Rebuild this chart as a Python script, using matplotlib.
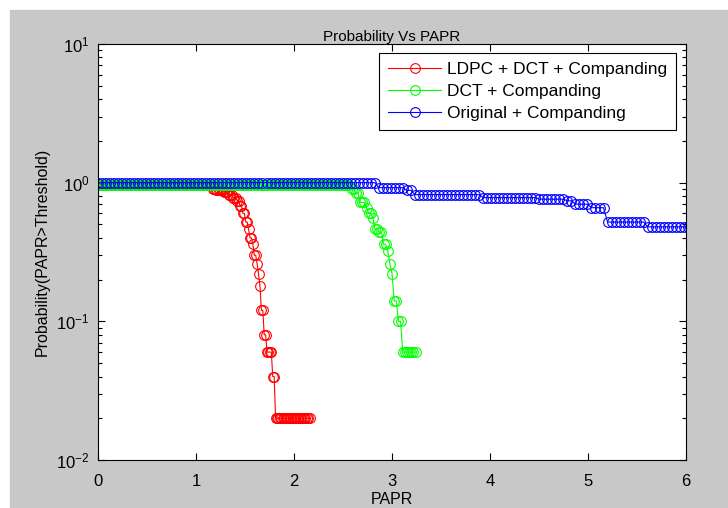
"""
Probability Vs PAPR — CCDF curves redrawn in the style of a MATLAB semilogy figure.
"""

import numpy as np
import matplotlib
matplotlib.use("Agg")
import matplotlib.pyplot as plt
from matplotlib.patches import Rectangle

plt.rcParams["font.family"] = ["Liberation Sans", "DejaVu Sans"]
plt.rcParams["mathtext.default"] = "regular"

# --- data ------------------------------------------------------------------
# each curve: threshold range (end), and the step levels of P(PAPR > threshold)
# (x where a level starts, level value)
n_points = 150

red_end = 2.16
red_x = [0.0, 1.16, 1.20, 1.28, 1.33, 1.37, 1.41, 1.44, 1.47, 1.50, 1.53,
         1.55, 1.57, 1.59, 1.61, 1.63, 1.645, 1.66, 1.685, 1.725, 1.77, 1.80]
red_p = [0.96, 0.90, 0.88, 0.86, 0.82, 0.78, 0.74, 0.68, 0.60, 0.52, 0.46,
         0.40, 0.36, 0.30, 0.26, 0.22, 0.18, 0.12, 0.08, 0.06, 0.04, 0.02]

green_end = 3.24
green_x = [0.0, 2.58, 2.63, 2.67, 2.72, 2.76, 2.79, 2.81, 2.86, 2.90, 2.94,
           2.96, 2.99, 3.02, 3.06, 3.10]
green_p = [0.96, 0.90, 0.84, 0.72, 0.66, 0.60, 0.56, 0.46, 0.44, 0.36, 0.32,
           0.26, 0.22, 0.14, 0.10, 0.06]

blue_end = 6.1
blue_x = [0.0, 2.86, 3.12, 3.20, 3.90, 4.50, 4.78, 4.84, 5.00, 5.19, 5.60]
blue_p = [1.00, 0.92, 0.88, 0.82, 0.78, 0.76, 0.74, 0.70, 0.66, 0.52, 0.48]

labels = ["LDPC + DCT + Companding", "DCT + Companding",
          "Original + Companding"]


def ccdf_curve(end, breaks, levels):
    grid = np.linspace(0, end, n_points)
    idx = np.searchsorted(breaks, grid, side="right") - 1
    return grid, np.asarray(levels)[idx]


fig = plt.figure(figsize=(7.28, 5.08), dpi=100, facecolor="white")
fig.patches.append(Rectangle((10 / 728, 0), 1, 498 / 508,
                             transform=fig.transFigure, color="#c8c8c8",
                             zorder=-10))
ax = fig.add_axes([98 / 728, 48 / 508, 588 / 728, 416 / 508])
ax.set_facecolor("white")

curves = [(red_end, red_x, red_p, "#ff0000"),
          (green_end, green_x, green_p, "#00ff00"),
          (blue_end, blue_x, blue_p, "#0000ff")]
for (end, bx, bp, col), lab in zip(curves, labels):
    x, p = ccdf_curve(end, bx, bp)
    ax.semilogy(x, p, "-o", color=col, lw=0.8, ms=7, mfc="none", mew=0.8,
                label=lab)

ax.set_xlim(0, 6)
ax.set_ylim(1e-2, 1e1)
ax.set_xticks(range(7))
ax.tick_params(which="both", direction="in", top=True, right=True,
               labelsize=12, width=0.8)
ax.tick_params(which="major", length=5)
ax.tick_params(which="minor", length=3)
ax.tick_params(axis="x", pad=10)
ax.tick_params(axis="y", pad=6)
for s in ax.spines.values():
    s.set_linewidth(0.8)

ax.set_title("Probability Vs PAPR", fontsize=11, pad=-1)
ax.set_xlabel("PAPR", fontsize=11.5, labelpad=2.5)
ax.set_ylabel("Probability(PAPR>Threshold)", fontsize=11.5, labelpad=5)

leg = ax.legend(loc="upper right", bbox_to_anchor=(0.983, 0.978),
                fontsize=12.5, frameon=True, fancybox=False, framealpha=1,
                edgecolor="black", handlelength=3.05, handletextpad=0.35,
                labelspacing=0.4, borderpad=0.5, borderaxespad=0)
leg.get_frame().set_linewidth(0.8)

fig.savefig("out.png", dpi=100)
